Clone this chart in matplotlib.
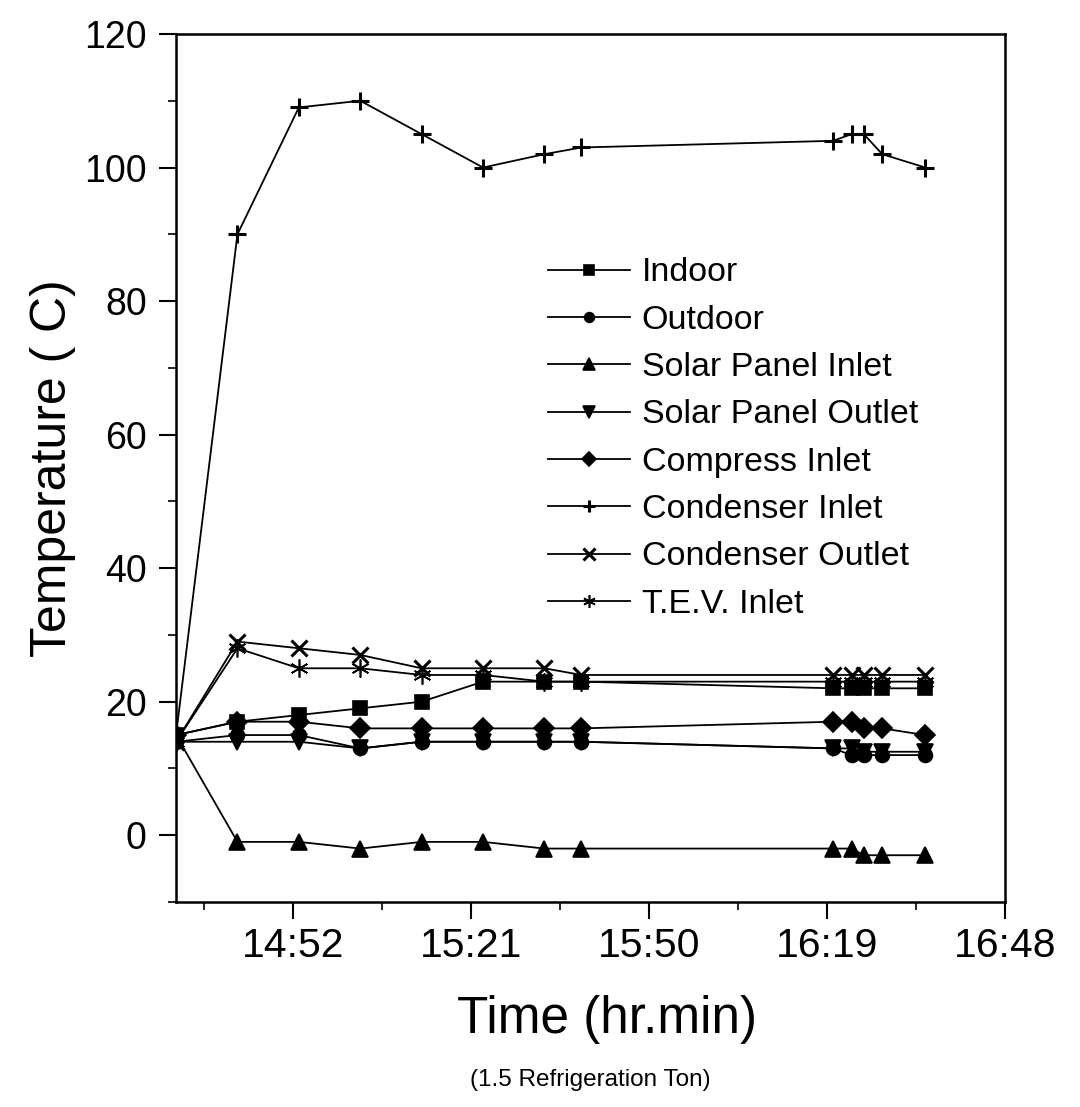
import matplotlib
matplotlib.use("Agg")
import matplotlib.pyplot as plt
from matplotlib.ticker import FuncFormatter, MultipleLocator, FixedLocator

plt.rcParams["font.family"] = ["Liberation Sans", "DejaVu Sans"]

# sample times (hh:mm) and temperatures (C)
times = ["14:33", "14:43", "14:53", "15:03", "15:13", "15:23", "15:33", "15:39",
         "16:20", "16:23", "16:25", "16:28", "16:35"]
indoor = [15, 17, 18, 19, 20, 23, 23, 23, 22, 22, 22, 22, 22]
outdoor = [14, 15, 15, 13, 14, 14, 14, 14, 13, 12, 12, 12, 12]
solar_in = [15, -1, -1, -2, -1, -1, -2, -2, -2, -2, -3, -3, -3]
solar_out = [14, 14, 14, 13, 14, 14, 14, 14, 13, 13, 12.5, 12.5, 12.5]
compress_in = [15, 17, 17, 16, 16, 16, 16, 16, 17, 17, 16, 16, 15]
cond_in = [15, 90, 109, 110, 105, 100, 102, 103, 104, 105, 105, 102, 100]
cond_out = [14, 29, 28, 27, 25, 25, 25, 24, 24, 24, 24, 24, 24]
tev_in = [14, 28, 25, 25, 24, 24, 23, 23, 23, 23, 23, 23, 23]

labels = ["Indoor", "Outdoor", "Solar Panel Inlet", "Solar Panel Outlet",
          "Compress Inlet", "Condenser Inlet", "Condenser Outlet", "T.E.V. Inlet"]
series = [indoor, outdoor, solar_in, solar_out, compress_in, cond_in, cond_out, tev_in]
markers = ["s", "o", "^", "v", "D", "+", "x", (6, 2, 0)]
sizes = [10, 10, 12, 12, 10, 13, 12, 13]


def to_min(s):
    h, m = s.split(":")
    return int(h) * 60 + int(m)


x = [to_min(t) for t in times]

fig = plt.figure(figsize=(10.8, 11.07), dpi=100)
ax = fig.add_axes([0.163, 0.1852, 0.7676, 0.7841])

for y, lab, mk, ms in zip(series, labels, markers, sizes):
    ax.plot(x, y, color="black", linewidth=1.3, marker=mk, markersize=ms,
            markeredgewidth=2.2 if mk in ("+", "x") else 1.2, label=lab)

ax.set_xlim(873, 1008)
ax.set_ylim(-10, 120)
major = [892 + 29 * k for k in range(5)]
ax.xaxis.set_major_locator(FixedLocator(major))
ax.xaxis.set_minor_locator(FixedLocator([m - 14.5 for m in major]))
ax.xaxis.set_major_formatter(FuncFormatter(lambda v, p: "%d:%02d" % (int(v) // 60, int(v) % 60)))
ax.yaxis.set_major_locator(MultipleLocator(20))
ax.yaxis.set_minor_locator(MultipleLocator(10))

ax.tick_params(which="major", direction="out", length=12, width=1.5, pad=8)
ax.tick_params(axis="y", which="major", labelsize=27, pad=9)
ax.tick_params(axis="x", which="major", labelsize=29.5, pad=6)
ax.tick_params(which="minor", direction="out", length=6, width=1.2)
for sp in ax.spines.values():
    sp.set_linewidth(1.8)

ax.set_ylabel("Temperature ( C)", fontsize=36, labelpad=6)
ax.set_xlabel("Time (hr.min)", fontsize=37)
ax.xaxis.set_label_coords(0.52, -0.107)
fig.text(0.547, 0.024, "(1.5 Refrigeration Ton)", fontsize=17.5, ha="center", va="center")

leg = ax.legend(loc="upper left", bbox_to_anchor=(0.42, 0.77), frameon=False,
                fontsize=24.5, handlelength=2.4, labelspacing=0.48, handletextpad=0.35,
                markerscale=0.7, borderpad=0.2)

fig.savefig("out.png", dpi=100)
